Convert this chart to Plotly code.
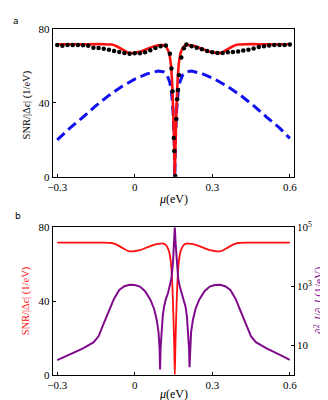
import plotly.graph_objects as go

# ---------------- data ----------------
mu_red = [-0.30, -0.20, -0.12, -0.09, -0.07, -0.05, -0.03, -0.02, -0.01, 0.00, 0.02, 0.04,
          0.06, 0.08, 0.10, 0.11, 0.12, 0.13, 0.135, 0.14, 0.145, 0.15, 0.153, 0.155,
          0.157, 0.160, 0.165, 0.170, 0.175, 0.180, 0.19, 0.20, 0.21, 0.23, 0.25, 0.27,
          0.29, 0.31, 0.32, 0.33, 0.34, 0.36, 0.38, 0.40, 0.43, 0.50, 0.60]
snr_red = [71.7, 71.7, 71.7, 71.5, 70.6, 69.0, 67.4, 67.0, 66.9, 67.1, 67.6, 68.7,
           69.8, 70.7, 71.2, 71.2, 70.5, 68.0, 65.5, 60.5, 50.0, 30.0, 14.0, 0.0,
           14.0, 30.0, 50.0, 60.5, 65.5, 68.0, 70.5, 71.2, 71.2, 70.7, 69.8, 68.7,
           67.6, 67.1, 66.9, 67.0, 67.4, 69.0, 70.6, 71.5, 71.7, 71.7, 71.7]

mu_blue = [-0.30, -0.25, -0.20, -0.15, -0.10, -0.05, 0.00, 0.05, 0.09, 0.11, 0.125,
           0.135, 0.142, 0.148, 0.152, 0.155, 0.158, 0.162, 0.168, 0.175, 0.185, 0.20,
           0.22, 0.26, 0.31, 0.36, 0.41, 0.46, 0.51, 0.56, 0.60]
snr_blue = [20.0, 26.5, 32.3, 38.5, 44.0, 48.8, 52.8, 55.8, 57.2, 56.8, 55.0,
            51.5, 46.0, 36.0, 22.0, 0.0, 22.0, 36.0, 46.0, 51.5, 55.0, 56.8,
            57.2, 55.8, 52.8, 48.8, 44.0, 38.5, 32.3, 26.5, 20.8]

mu_dots = [-0.30, -0.28, -0.26, -0.24, -0.22, -0.20, -0.18, -0.16, -0.14, -0.12, -0.10,
           -0.08, -0.06, -0.04, -0.02, 0.00, 0.02, 0.04, 0.06, 0.08, 0.10, 0.12,
           0.136, 0.142, 0.146, 0.151, 0.153, 0.157, 0.161, 0.164, 0.167, 0.171,
           0.18, 0.19, 0.20, 0.22, 0.24, 0.26, 0.28, 0.30, 0.32, 0.34, 0.36, 0.38,
           0.40, 0.42, 0.44, 0.46, 0.48, 0.50, 0.52, 0.54, 0.56, 0.58, 0.60]
snr_dots = [71.3, 70.8, 71.3, 71.3, 71.3, 71.1, 70.8, 69.8, 69.6, 69.2, 68.7,
            68.0, 67.5, 67.0, 66.6, 66.8, 66.8, 67.4, 68.4, 69.6, 70.6, 71.0,
            66.5, 58.6, 46.3, 21.0, 14.0, 0.5, 31.3, 42.0, 47.0, 55.0,
            64.5, 69.5, 71.5, 70.6, 69.8, 68.9, 68.0, 67.4, 67.0, 67.0, 67.3, 67.5,
            67.8, 68.3, 68.7, 69.4, 70.2, 70.6, 71.0, 71.2, 71.2, 71.3, 71.5]

mu_purple = [-0.30, -0.25, -0.20, -0.16, -0.14, -0.12, -0.10, -0.08, -0.06, -0.04, -0.02,
             0.00, 0.02, 0.04, 0.06, 0.075, 0.085, 0.092, 0.096, 0.098, 0.100, 0.104,
             0.108, 0.113, 0.120, 0.129, 0.136, 0.142, 0.148, 0.152, 0.155, 0.158,
             0.162, 0.168, 0.174, 0.181, 0.190, 0.197, 0.202, 0.206, 0.210, 0.212,
             0.214, 0.218, 0.225, 0.235, 0.25, 0.27, 0.29, 0.31, 0.33, 0.35, 0.37,
             0.39, 0.41, 0.43, 0.45, 0.47, 0.51, 0.56, 0.60]
ratio_purple = [3.1, 4.8, 7.8, 12.5, 20, 55, 140, 380, 750, 1000, 1130,
                1100, 980, 680, 360, 170, 72, 28, 8, 1.5, 8, 34,
                90, 195, 360, 600, 1000, 1860, 6600, 30000, 100000, 30000,
                6600, 1860, 1000, 600, 360, 195, 90, 34, 8, 1.8,
                8, 28, 72, 170, 360, 680, 980, 1100, 1130, 1000, 750,
                380, 140, 55, 20, 12.5, 7.8, 4.8, 3.2]

x_ticks = [-0.3, 0, 0.3, 0.6]
x_ticktext = ["\u22120.3", "0", "0.3", "0.6"]
y_ticks = [0, 40, 80]
y2_ticks = [10, 1000, 100000]
y2_ticktext = ["10", "10<sup>3</sup>", "10<sup>5</sup>"]

# ---------------- figure ----------------
W, H = 328, 400
FONT = "Liberation Serif, DejaVu Serif, serif"
RED = "#ff1010"
BLUE = "#1010f0"
PURPLE = "#800a8c"

fig = go.Figure()

fig.add_trace(go.Scatter(x=mu_blue, y=snr_blue, mode="lines", xaxis="x", yaxis="y",
                         line=dict(color=BLUE, width=3, dash="10px,5px"), hoverinfo="skip"))
fig.add_trace(go.Scatter(x=mu_red, y=snr_red, mode="lines", xaxis="x", yaxis="y",
                         line=dict(color=RED, width=2.6, shape="spline", smoothing=0.6), hoverinfo="skip"))
fig.add_trace(go.Scatter(x=mu_dots, y=snr_dots, mode="markers", xaxis="x", yaxis="y",
                         marker=dict(color="black", size=4.5), hoverinfo="skip"))

fig.add_trace(go.Scatter(x=mu_red, y=snr_red, mode="lines", xaxis="x2", yaxis="y2",
                         line=dict(color=RED, width=1.8, shape="spline", smoothing=0.6), hoverinfo="skip"))
fig.add_trace(go.Scatter(x=mu_purple, y=ratio_purple, mode="lines", xaxis="x2", yaxis="y3",
                         line=dict(color=PURPLE, width=2), hoverinfo="skip"))

xd = [40.7 / W, 287.7 / W]
top_dom = [(H - 166.7) / H, (H - 13.3) / H]
bot_dom = [(H - 371.7) / H, (H - 219.0) / H]
xr = [-0.3175, 0.615]

axis_common = dict(showline=True, linecolor="black", linewidth=1, mirror=True,
                   ticks="inside", ticklen=3, tickcolor="black", showgrid=False,
                   zeroline=False, tickfont=dict(family=FONT, size=11, color="black"))

fig.update_layout(
    width=W, height=H, margin=dict(l=0, r=0, t=0, b=0),
    paper_bgcolor="white", plot_bgcolor="white", showlegend=False,
    xaxis=dict(domain=xd, range=xr, anchor="y", tickvals=x_ticks, ticktext=x_ticktext, **axis_common),
    yaxis=dict(domain=top_dom, range=[0, 80], anchor="x", tickvals=y_ticks, **axis_common),
    xaxis2=dict(domain=xd, range=xr, anchor="y2", tickvals=x_ticks, ticktext=x_ticktext, **axis_common),
    yaxis2=dict(domain=bot_dom, range=[0, 80], anchor="x2", tickvals=y_ticks, **axis_common),
    yaxis3=dict(domain=bot_dom, type="log", range=[0, 5], overlaying="y2", anchor="x2", side="right",
                tickvals=y2_ticks, ticktext=y2_ticktext, showline=True, linecolor="black",
                linewidth=1, ticks="inside", ticklen=3, tickcolor="black", showgrid=False,
                zeroline=False, tickfont=dict(family=FONT, size=11, color="black")),
)

ann_font = dict(family=FONT, size=12, color="black")
annotations = [
    dict(text="<i>μ</i>(eV)", x=165 / W, y=(H - 190) / H, xref="paper", yref="paper",
         showarrow=False, font=ann_font, xanchor="center", yanchor="middle"),
    dict(text="<i>μ</i>(eV)", x=165 / W, y=(H - 392) / H, xref="paper", yref="paper",
         showarrow=False, font=ann_font, xanchor="center", yanchor="middle"),
    dict(text="SNR/|Δ<i>ϵ</i>| (1/eV)", x=14 / W, y=(H - 92) / H, xref="paper", yref="paper",
         showarrow=False, textangle=-90, font=dict(family=FONT, size=10.5, color="black"),
         xanchor="center", yanchor="middle"),
    dict(text="SNR/|Δ<i>ϵ</i>| (1/eV)", x=13 / W, y=(H - 295) / H, xref="paper", yref="paper",
         showarrow=False, textangle=-90, font=dict(family=FONT, size=10.5, color=RED),
         xanchor="center", yanchor="middle"),
    dict(text="∂<sup>2</sup><sub><i>μ</i></sub><i>I</i>/∂<sub><i>μ</i></sub><i>I</i> (1/eV)",
         x=314 / W, y=(H - 295) / H, xref="paper", yref="paper",
         showarrow=False, textangle=-90, font=dict(family=FONT, size=11.5, color=PURPLE),
         xanchor="center", yanchor="middle"),
    dict(text="a", x=3 / W, y=(H - 5) / H, xref="paper", yref="paper", showarrow=False,
         font=dict(family="DejaVu Sans", size=9, color="black"), xanchor="center", yanchor="middle"),
    dict(text="b", x=5 / W, y=(H - 207) / H, xref="paper", yref="paper", showarrow=False,
         font=dict(family="DejaVu Sans", size=9, color="black"), xanchor="center", yanchor="middle"),
]
fig.update_layout(annotations=annotations)

fig.write_html("out.html")
